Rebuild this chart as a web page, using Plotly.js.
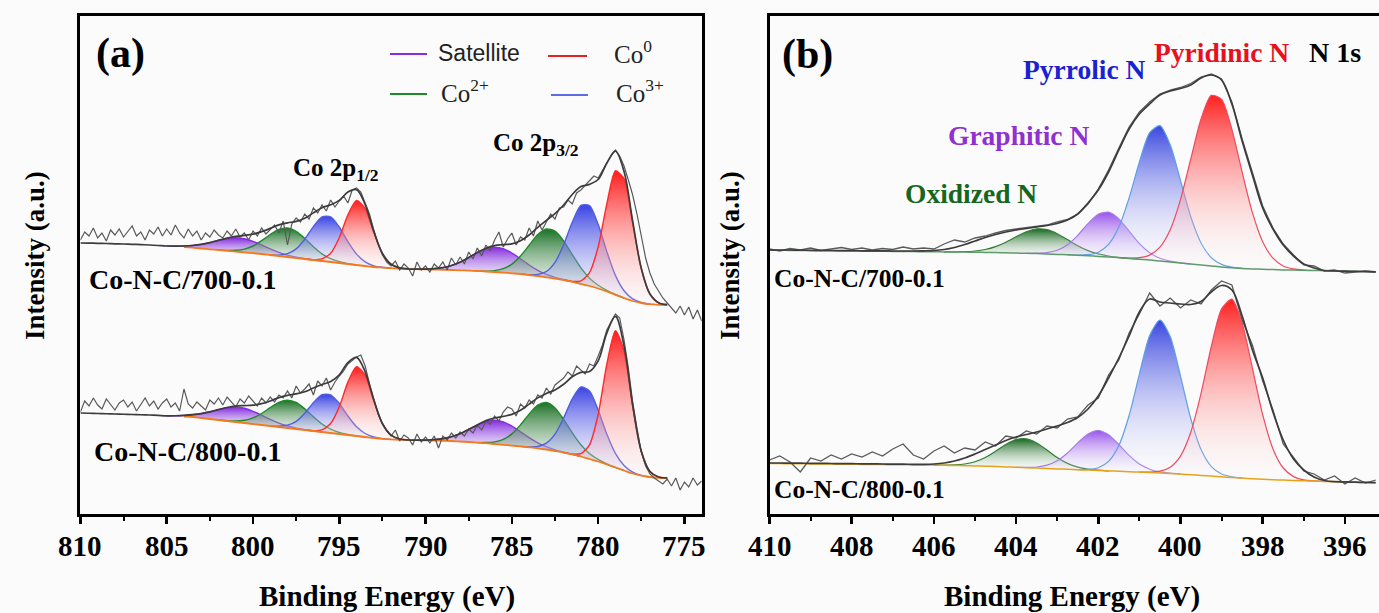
<!DOCTYPE html>
<html><head><meta charset="utf-8">
<script src="https://cdn.plot.ly/plotly-3.0.1.min.js"></script>
<style>html,body{margin:0;padding:0;background:#fbfbfb;}#chart{width:1379px;height:613px;}</style>
</head><body><div id="chart"></div>
<script>
// ---------------- Panel (a): Co 2p ----------------
const aFitStart = 810, aFitStep = 0.5;      // fit grid (eV)
const aRawStart = 810, aRawStep = 0.25;     // raw grid (eV)
const aBgLineFrom = 804;                    // background line drawn from here
const aTicks = [810, 805, 800, 795, 790, 785, 780, 775];

const a700Raw = [274,282,278,286, 276,281,273,284, 279,285,277,283, 288,278,282,274, 284,280,287,278, 285,279,289,281, 276,285,278,283, 274,281,277,284, 279,276,283,278, 285,277,281,274, 283,278,286,280, 284,289,281,293, 269,290,296,292, 300,295,306,301, 309,303,314,307, 313,318,311,324, 326,322,311,300, 284,270,259,252, 248,253,244,250, 246,238,252,244, 248,242,250,246, 252,244,256,249, 257,250,262,255, 266,258,269,263, 274,282,267,275, 281,269,277,274, 286,278,293,284, 292,300,295,306, 307,314,310,321, 324,329,333,338, 336,344,351,358, 364,358,348,334, 319,300,276,256, 241,230,223,216, 211,206,201,208, 199,207,195,204, 193];
const a800Raw = [102,113,108,116, 109,105,115,110, 104,111,114,107, 112,103,110,116, 108,113,105,111, 115,107,111,103, 125,110,106,112, 108,104,114,110, 116,109,117,112, 107,115,111,118, 113,108,116,111, 117,112,119,116, 123,116,128,121, 125,130,119,133, 128,136,124,132, 138,143,150,154, 157,159,148,130, 114,100,90,83, 78,84,73,79, 76,69,80,72, 77,71,78,66, 78,74,81,76, 82,78,85,81, 89,84,93,90, 98,93,102,107, 105,98,110,106, 114,110,119,116, 126,120,129,133, 136,142,138,148, 144,140,150,148, 158,169,184,192, 200,196,174,146, 112,86,62,48, 40,36,33,30, 35,28,36,24, 32,27,36,29, 33];

const a700Bg = [271,270.9,270.7,270.5,270.2, 270,269.7,269.4,269,268.5, 268,267.5,267,266.3,265.5, 264.7,264,263.2,262.4,261.6, 260.8,260,259,258,257, 256,255,254,253,252, 251,250,249,248,247, 246.4,245.8,245.4,245,244.8, 244.6,244.4,244.2,244,243.7, 243.4,243,242.5,242,241.4, 240.7,240,239,238,236.7, 235.4,234,232.2,230.2,228, 225.5,222.5,219.2,216,213, 211,209.8,209.2,209];
const a700Sat = [0,0,0,0,0, 0,0,0,0,0, 0,0.4,1,2.2,4.1, 6.7,9.7,12.3,13.9,13.7, 11.9,9.1,6.1,3.6,1.9, 0.9,0.4,0.1,0,0, 0,0,0,0,0, 0,0,0,0,0, 0.3,0.9,2.2,4.5,8.1, 13,18.4,22.8,24.9,24, 20.3,15.2,10,5.7,2.9, 1.3,0.5,0.2,0,0, 0,0,0,0,0, 0,0,0,0];
const a700Co2 = [0,0,0,0,0, 0,0,0,0,0, 0,0,0,0,0, 0,0,0.4,1.3,3.3, 7.2,13.3,20.5,26.6,29, 26.6,20.5,13.3,7.2,3.3, 1.3,0.4,0,0,0, 0,0,0,0,0, 0,0,0,0,0, 0,0,0.4,1.4,3.9, 9.2,18,29.7,41.4,48.3, 47.5,39.2,27.2,15.9,7.8, 3.2,1.1,0.3,0,0, 0,0,0,0];
const a700Co3 = [0,0,0,0,0, 0,0,0,0,0, 0,0,0,0,0, 0,0,0,0,0, 0,0,0,0.9,3.3, 9.1,19.8,33.4,44,45.1, 36,22.4,10.9,4.1,1.2, 0.3,0,0,0,0, 0,0,0,0,0, 0,0,0,0,0, 0,0,0.3,1.6,5.8, 16.2,35.3,59.5,78.4,80.4, 64.2,39.9,19.4,7.3,2.1, 0.5,0,0,0];
const a700Co0 = [0,0,0,0,0, 0,0,0,0,0, 0,0,0,0,0, 0,0,0,0,0, 0,0,0,0,0, 0,0,0.3,2.1,8.8, 25.3,49.1,64.5,57.3,34.5, 14,3.9,0.7,0,0, 0,0,0,0,0, 0,0,0,0,0, 0,0,0,0,0, 0,0,0.4,2.9,13.4, 41.6,87.3,124,119.3,77.7, 34.2,10.2,2,0.3];

const a800Bg = [101,100.75,100.5,100.25,100, 99.75,99.5,99.25,99,98.6, 98.2,97.8,97.5,97,96, 95,94,93,92,91, 90,89,88,87,86, 85,84,83,82,81, 80,79,78,77,76, 75.2,74.6,74.2,74,73.8, 73.6,73.4,73.2,73,72.5, 72,71.4,70.8,70,69.2, 68.4,67.6,66.7,65.7,64.5, 63,61.4,59.6,57.5,55, 52.5,49.5,46.5,43.5,40.5, 38.3,37,36.2,36];
const a800Sat = [0,0,0,0,0, 0,0,0,0,0, 0,0.45,1.1,2.3,4.4, 7.2,10.4,13.2,14.9,14.7, 12.7,9.8,6.6,3.9,2, 0.9,0.4,0.1,0,0, 0,0,0,0,0, 0,0,0,0,0, 0.3,0.9,2.1,4.3,7.8, 12.5,17.6,21.9,23.9,23, 19.5,14.6,9.6,5.5,2.8, 1.2,0.5,0.2,0,0, 0,0,0,0,0, 0,0,0,0];
const a800Co2 = [0,0,0,0,0, 0,0,0,0,0, 0,0,0,0,0, 0,0,0.3,1,2.7, 6.1,11.5,18.4,24.7,27.9, 26.5,21.1,14.2,8,3.8, 1.5,0.5,0.1,0,0, 0,0,0,0,0, 0,0,0,0,0, 0,0,0.7,2.1,5.4, 11.7,21.5,33.2,43.1,47, 43.1,33.2,21.5,11.7,5.4, 2.1,0.7,0.2,0,0, 0,0,0,0];
const a800Co3 = [0,0,0,0,0, 0,0,0,0,0, 0,0,0,0,0, 0,0,0,0,0, 0,0,0,0.8,2.8, 7.7,16.8,28.3,37.3,38.2, 30.5,19,9.2,3.5,1, 0.2,0,0,0,0, 0,0,0,0,0, 0,0,0,0,0, 0,0,0.4,1.8,6.3, 16.8,34.6,55.6,69.6,67.9, 51.5,30.5,14.1,5,1.4, 0.3,0,0,0];
const a800Co0 = [0,0,0,0,0, 0,0,0,0,0, 0,0,0,0,0, 0,0,0,0,0, 0,0,0,0,0, 0,0,0.4,2.2,9.5, 27.2,52.9,69.4,61.7,37.2, 15.1,4.2,0.8,0,0, 0,0,0,0,0, 0,0,0,0,0, 0,0,0,0,0, 0,0,0.3,2.8,14.2, 47,100.2,136.8,119.6,67.2, 24.2,5.5,0.8,0.1];

// ---------------- Panel (b): N 1s ----------------
const bStart = 410, bStep = 0.25;
const bTicks = [410, 408, 406, 404, 402, 400, 398, 396];

const bTopRaw = [265,263,265.5,264, 266,263.5,265,266.5, 264.5,266,264,265.5, 264.5,267,265,266, 265,270,274,272, 276,278,281,283.5, 285,286.5,288,289, 292,294.5,300,310, 325,344,366,387, 402,412,420,424, 426.5,430.5,437,440, 435,412,375,341, 308,286,270,259, 249,248,243,244, 241,242,243,242];
const bTopEnv = [264,264,264,263.8, 263.7,263.6,263.5,263.4, 263.3,263.2,263.2,263.1, 263,263,263,263.2, 263.5,264.5,266.5,269.5, 273,276.5,279.5,282, 284,285.5,287,288.5, 290.5,294,300,311, 324,342,364,385, 400,410,419,423, 425.5,429,436,439, 434,410,373,339, 306,285,269,258, 250,246,243.5,243, 242.8,242.6,242.4,242.2];
const bTopBg = [263.8,263.7,263.6,263.5, 263.4,263.3,263.2,263.1, 263,262.9,262.8,262.7, 262.6,262.5,262.4,262.3, 262.2,262.1,262,261.9, 261.8,261.6,261.4,261.2, 261,260.7,260.4,260, 259.6,259.2,258.7,258.2, 257.6,257,256.3,255.6, 254.8,254,253,252, 251,250,249,248, 247,246.2,245.6,245.1, 244.7,244.4,244.1,243.9, 243.7,243.5,243.3,243.1, 242.9,242.7,242.5,242.3];
const bTopOxidized = [0,0,0,0,0, 0,0,0,0,0, 0,0,0,0,0, 0,0,0,0.1,0.4, 1.2,2.9,6,10.6,16.3, 21.6,24.7,24.3,20.7,15.2, 9.6,5.2,2.5,1,0.35, 0.1,0,0,0,0, 0,0,0,0,0, 0,0,0,0,0, 0,0,0,0,0, 0,0,0,0,0];
const bTopGraphitic = [0,0,0,0,0, 0,0,0,0,0, 0,0,0,0,0, 0,0,0,0,0, 0,0,0,0,0, 0,0.4,1.4,4.2,10.1, 20,32.2,42.1,44.8,38.8, 27.3,15.6,7.3,2.8,0.8, 0.2,0,0,0,0, 0,0,0,0,0, 0,0,0,0,0, 0,0,0,0,0];
const bTopPyrrolic = [0,0,0,0,0, 0,0,0,0,0, 0,0,0,0,0, 0,0,0,0,0, 0,0,0,0,0, 0,0,0,0,0, 0.3,1.1,4.2,12.6,30.6, 60.5,97.2,127.3,135.4,117.2, 82.6,47.2,22,8.3,2.6, 0.6,0,0,0,0, 0,0,0,0,0, 0,0,0,0,0];
const bTopPyridinic = [0,0,0,0,0, 0,0,0,0,0, 0,0,0,0,0, 0,0,0,0,0, 0,0,0,0,0, 0,0,0,0,0, 0,0,0,0,0, 0.4,1.5,4.9,13.8,32.2, 63.4,105,146,170.6,167.6, 138.5,96.2,56.2,27.5,11.4, 3.9,1.2,0.3,0,0, 0,0,0,0,0];

const bBotRaw = [54,58,52,42, 56,53,59,55, 60,57,62,58, 65,70,59,55, 63,68,61,66, 64,72,68,78, 76,83,80,88, 86,95,97,109, 116,139,154,181, 200,221,208,216, 206,214,210,224, 233,229,194,169, 133,104,70,57, 43,40,34,38, 30,36,31,34];
const bBotEnv = [51,51,50.9,50.8, 50.7,50.6,50.5,50.4, 50.3,50.2,50.1,50, 49.9,49.8,49.7,49.7, 50,51,53,56, 60,64.5,69,73.5, 77,79.5,82,85, 88,91.5,96.5,105, 118,136,156,178, 202,215,212,211, 210,209.5,212.5,222, 228.5,224,198,164, 136,102,74,55, 44,37,33.5,32.3, 32.1,31.8,31.6,31.4];
const bBotBg = [50.5,50.4,50.3,50.2, 50.1,50,49.9,49.8, 49.7,49.6,49.5,49.4, 49.3,49.2,49.1,49, 48.9,48.7,48.5,48.3, 48.1,47.8,47.5,47.1, 46.7,46.3,45.9,45.5, 45.1,44.7,44.3,43.9, 43.5,43.1,42.7,42.3, 41.9,41.5,41,40.5, 39.9,39.3,38.6,37.9, 37.2,36.5,35.9,35.3, 34.8,34.3,33.9,33.5, 33.2,32.9,32.6,32.3, 32,31.7,31.5,31.3];
const bBotOxidized = [0,0,0,0,0, 0,0,0,0,0, 0,0,0,0,0, 0,0,0.2,0.6,1.7, 4.2,8.7,15.3,22.4,27.7, 28.8,25.1,18.5,11.4,5.9, 2.6,1,0.3,0,0, 0,0,0,0,0, 0,0,0,0,0, 0,0,0,0,0, 0,0,0,0,0, 0,0,0,0,0];
const bBotGraphitic = [0,0,0,0,0, 0,0,0,0,0, 0,0,0,0,0, 0,0,0,0,0, 0,0,0,0,0, 0.3,1.1,3.3,8.1,16.3, 26.8,36.2,40,36.2,26.8, 16.3,8.1,3.3,1.1,0.3, 0,0,0,0,0, 0,0,0,0,0, 0,0,0,0,0, 0,0,0,0,0];
const bBotPyrrolic = [0,0,0,0,0, 0,0,0,0,0, 0,0,0,0,0, 0,0,0,0,0, 0,0,0,0,0, 0,0,0,0,0, 0,0.7,2.8,9.5,25.8, 56.2,98,136.9,153,136.9, 98,56.2,25.8,9.5,2.8, 0.7,0,0,0,0, 0,0,0,0,0, 0,0,0,0,0];
const bBotPyridinic = [0,0,0,0,0, 0,0,0,0,0, 0,0,0,0,0, 0,0,0,0,0, 0,0,0,0,0, 0,0,0,0,0, 0,0,0,0,0, 0,0,0.4,1.8,6.3, 18,42.4,82,129.6,167.9, 178.3,155,110.5,64.5,30.8, 12.1,3.9,1,0.2,0, 0,0,0,0,0];

// ---------------- Styles ----------------
const W = 1379, H = 613;
const BG = '#fbfbfb';
const SERIF = 'Liberation Serif';
const COL = {
  sat:  {line:'#8a2be2', top:'rgba(125,30,220,0.95)', bot:'rgba(215,195,245,0.10)'},
  co2:  {line:'#1f8a2a', top:'rgba(15,105,25,0.95)',  bot:'rgba(200,220,205,0.10)'},
  co3:  {line:'#4f5fe0', top:'rgba(40,50,225,0.92)',  bot:'rgba(215,215,250,0.10)'},
  co0:  {line:'#ff2a2a', top:'rgba(255,15,15,0.95)',  bot:'rgba(255,220,220,0.10)'},
  oxi:  {line:'#2e7d32', top:'rgba(10,95,20,0.95)',   bot:'rgba(220,235,220,0.05)'},
  gra:  {line:'#a27be6', top:'rgba(135,55,230,0.85)', bot:'rgba(240,230,255,0.05)'},
  pyrr: {line:'#5f9fe6', top:'rgba(40,55,220,0.92)',  bot:'rgba(240,240,255,0.05)'},
  pyri: {line:'#ee4a60', top:'rgba(255,20,20,0.95)',  bot:'rgba(255,240,240,0.05)'}
};

function energies(start, step, n){ return Array.from({length:n}, (_, i) => Math.round((start - i*step)*1000)/1000); }

const traces = [];
function addPeaks(xa, ya, E, bg, comp, c, lw){
  const n = comp.length; let i = 0;
  while (i < n){
    if (comp[i] > 0){
      let s = i; while (i < n && comp[i] > 0) i++; let e = i - 1;
      s = Math.max(0, s - 1); e = Math.min(n - 1, e + 1);
      const xs = [], up = [], lo = [];
      for (let k = s; k <= e; k++){ xs.push(E[k]); up.push(bg[k] + comp[k]); lo.push(bg[k]); }
      traces.push({type:'scatter', mode:'lines', xaxis:xa, yaxis:ya,
        x: xs.concat(xs.slice().reverse()), y: up.concat(lo.slice().reverse()),
        fill:'toself', line:{width:0, shape:'spline', smoothing:0.7},
        fillgradient:{type:'vertical', colorscale:[[0, c.bot],[1, c.top]]},
        hoverinfo:'skip', showlegend:false});
      traces.push({type:'scatter', mode:'lines', xaxis:xa, yaxis:ya, x: xs, y: up,
        line:{color:c.line, width:lw, shape:'spline', smoothing:0.7}, hoverinfo:'skip', showlegend:false});
    } else i++;
  }
}
function addLine(xa, ya, x, y, color, width, shape){
  traces.push({type:'scatter', mode:'lines', xaxis:xa, yaxis:ya, x, y,
    line:{color, width, shape: shape || 'linear'}, hoverinfo:'skip', showlegend:false});
}

// Panel (a) spectra
const aFitE = energies(aFitStart, aFitStep, a700Bg.length);
const aRawE = energies(aRawStart, aRawStep, a700Raw.length);
[[a700Bg, a700Sat, a700Co2, a700Co3, a700Co0, a700Raw],
 [a800Bg, a800Sat, a800Co2, a800Co3, a800Co0, a800Raw]].forEach(([bg, sat, co2, co3, co0, raw]) => {
  addPeaks('x', 'y', aFitE, bg, sat, COL.sat, 1.4);
  addPeaks('x', 'y', aFitE, bg, co2, COL.co2, 1.4);
  addPeaks('x', 'y', aFitE, bg, co3, COL.co3, 1.4);
  addPeaks('x', 'y', aFitE, bg, co0, COL.co0, 1.4);
  const bx = [], by = [];
  aFitE.forEach((e, i) => { if (e <= aBgLineFrom){ bx.push(e); by.push(bg[i]); } });
  addLine('x', 'y', bx, by, '#f47a1f', 1.8, 'spline');
  addLine('x', 'y', aRawE, raw, '#5a5a5a', 1.2);
  const env = bg.map((b, i) => b + sat[i] + co2[i] + co3[i] + co0[i]);
  addLine('x', 'y', aFitE, env, '#3c3c3c', 1.7, 'spline');
});

// Panel (b) spectra
const bE = energies(bStart, bStep, bTopBg.length);
[[bTopBg, bTopOxidized, bTopGraphitic, bTopPyrrolic, bTopPyridinic, bTopRaw, bTopEnv, '#5f9a6a'],
 [bBotBg, bBotOxidized, bBotGraphitic, bBotPyrrolic, bBotPyridinic, bBotRaw, bBotEnv, '#e8a21a']].forEach(([bg, oxi, gra, pyrr, pyri, raw, env, bgc]) => {
  addPeaks('x2', 'y2', bE, bg, oxi, COL.oxi, 1.2);
  addPeaks('x2', 'y2', bE, bg, gra, COL.gra, 1.2);
  addPeaks('x2', 'y2', bE, bg, pyrr, COL.pyrr, 1.2);
  addPeaks('x2', 'y2', bE, bg, pyri, COL.pyri, 1.2);
  addLine('x2', 'y2', bE, bg, bgc, 1.5, 'spline');
  addLine('x2', 'y2', bE, raw, '#5a5a5a', 1.3);
  addLine('x2', 'y2', bE, env, '#3c3c3c', 1.7, 'spline');
});

// ---------------- Layout ----------------
const px = x => x / W, py = y => 1 - y / H;
const yDom = [py(514), py(16)];
function xAxis(dom, range, ticks, minorStep, anchor){
  return {domain:dom, range, anchor, tickmode:'array', tickvals:ticks, showticklabels:false,
    ticks:'outside', ticklen:7, tickwidth:2.5, tickcolor:'#000',
    minor:{dtick:minorStep, tick0:ticks[0], ticks:'outside', ticklen:4, tickwidth:2, tickcolor:'#000', showgrid:false},
    showline:true, linewidth:3, linecolor:'#000', mirror:true, showgrid:false, zeroline:false, fixedrange:true};
}
function yAxis(anchor, mirror){
  return {domain:yDom, range:[0, 498], anchor, showticklabels:false, ticks:'', showline:true,
    linewidth:3, linecolor:'#000', mirror, showgrid:false, zeroline:false, fixedrange:true};
}

const ann = [];
function A(text, x, y, size, color, opt){
  ann.push(Object.assign({xref:'paper', yref:'paper', x:px(x), y:py(y), text, showarrow:false,
    xanchor:'left', yanchor:'middle', font:{family:SERIF, size, color: color || '#000', weight:'bold'}}, opt || {}));
}
// tick labels (serif bold, placed at the axis' own tick values)
aTicks.forEach(t => ann.push({xref:'x', yref:'paper', x:t, y:py(546), text:String(t), showarrow:false,
  xanchor:'center', yanchor:'middle', font:{family:SERIF, size:29, color:'#000', weight:'bold'}}));
bTicks.forEach(t => ann.push({xref:'x2', yref:'paper', x:t, y:py(546), text:String(t), showarrow:false,
  xanchor:'center', yanchor:'middle', font:{family:SERIF, size:29, color:'#000', weight:'bold'}}));

A('(a)', 94, 53, 42);
A('(b)', 780, 55, 42);
A('Co 2p<sub>1/2</sub>', 291, 169, 25);
A('Co 2p<sub>3/2</sub>', 491, 144, 25);
A('Co-N-C/700-0.1', 87, 280, 28);
A('Co-N-C/800-0.1', 92, 451, 28);
A('Co-N-C/700-0.1', 772, 278, 25.5);
A('Co-N-C/800-0.1', 772, 489, 25.5);
A('Oxidized N', 903, 193, 27.5, '#17661e');
A('Graphitic N', 946, 135, 27.5, '#9030d0');
A('Pyrrolic N', 1021, 70, 27.5, '#1a22d0');
A('Pyridinic N', 1152, 52, 27.5, '#e81020');
A('N 1s', 1307, 52, 28, '#000');
A('Binding Energy (eV)', 387, 596, 29, '#000', {xanchor:'center'});
A('Binding Energy (eV)', 1072, 596, 29, '#000', {xanchor:'center'});
A('Intensity (a.u.)', 35, 256, 27, '#000', {xanchor:'center', textangle:-90});
A('Intensity (a.u.)', 730, 256, 27, '#000', {xanchor:'center', textangle:-90});
// legend texts
A('Satellite', 436, 53, 23, '#222', {font:{family:'Liberation Sans', size:23, color:'#222', weight:'normal'}});
A('Co<sup>2+</sup>', 439, 91, 25, '#222', {font:{family:SERIF, size:25, color:'#222', weight:'normal'}});
A('Co<sup>0</sup>', 612, 52, 25, '#222', {font:{family:SERIF, size:25, color:'#222', weight:'normal'}});
A('Co<sup>3+</sup>', 614, 91, 25, '#222', {font:{family:SERIF, size:25, color:'#222', weight:'normal'}});

const shapes = [
  [390, 427, 54, COL.sat.line], [390, 427, 94, '#1f8a2a'],
  [548, 587, 56, '#e8201c'], [551, 588, 95, '#5b6ee1']
].map(([x0, x1, y, c]) => ({type:'line', xref:'paper', yref:'paper', x0:px(x0), x1:px(x1), y0:py(y), y1:py(y), line:{color:c, width:2.2}}));

const layout = {width:W, height:H, margin:{l:0, r:0, t:0, b:0}, paper_bgcolor:BG, plot_bgcolor:BG,
  showlegend:false,
  xaxis:xAxis([px(80.4), px(701.7)], [810, 774], aTicks, 2.5, 'y'), yaxis:yAxis('x', true),
  xaxis2:xAxis([px(769.5), 1], [410, 395.17], bTicks, 1, 'y2'), yaxis2:yAxis('x2', false),
  annotations:ann, shapes};
Plotly.newPlot('chart', traces, layout, {staticPlot:true});
</script></body></html>
